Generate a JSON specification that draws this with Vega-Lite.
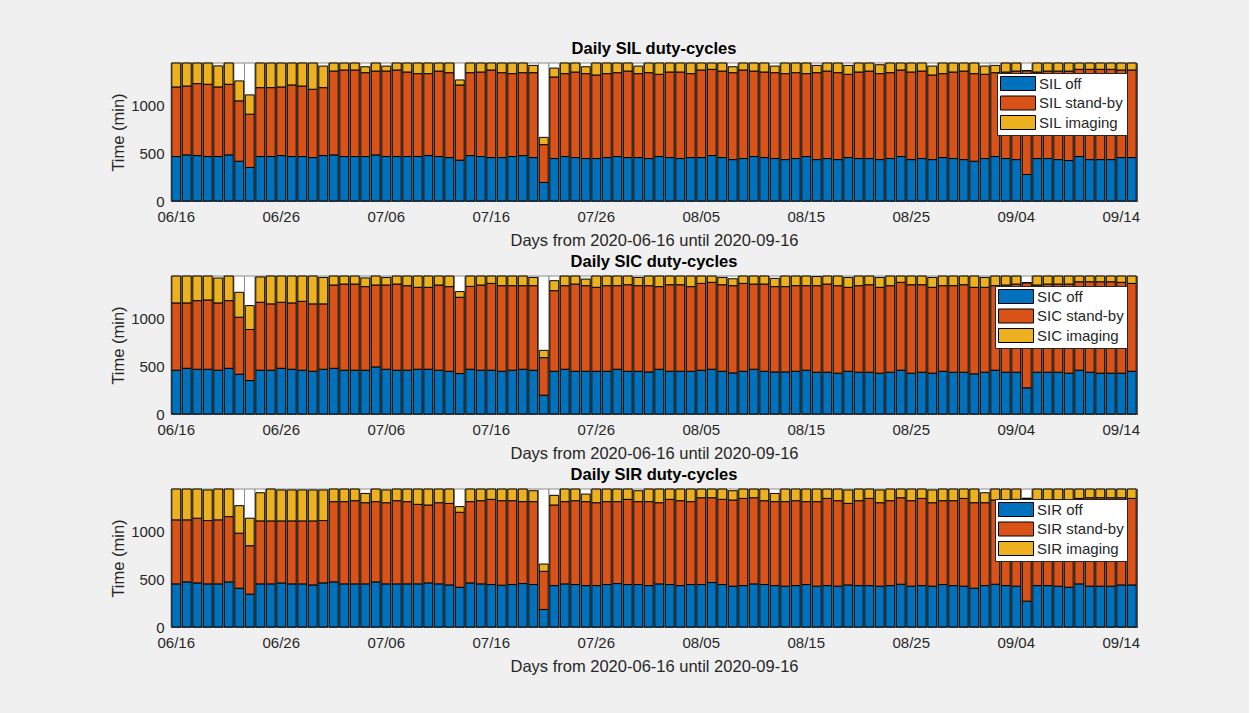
{
"$schema": "https://vega.github.io/schema/vega-lite/v6.json",
"background": "#f0f0f0",
"padding": {"left": 110, "top": 40, "right": 108, "bottom": 43},
"bounds": "flush",
"spacing": 75,
"config": {
  "font": "Liberation Sans",
  "view": {"fill": "white", "stroke": "#262626", "strokeWidth": 1},
  "axis": {"domainColor": "#262626", "tickColor": "#262626", "labelColor": "#262626", "titleColor": "#262626", "labelFontSize": 15, "titleFontSize": 16.5, "titleFontWeight": "normal", "grid": false, "tickSize": -5, "labelPadding": 12},
  "axisX": {"labelPadding": 13, "titlePadding": 8},
  "axisY": {"format": "d"},
  "title": {"fontSize": 16.5, "fontWeight": "bold", "color": "black", "offset": 5},
  "legend": {"orient": "top-right", "offset": 10, "fillColor": "white", "strokeColor": "#262626", "padding": 3, "rowPadding": 0.5, "labelFontSize": 15, "labelColor": "#262626", "symbolType": "M-1,-1H4V1H-1Z", "symbolSize": 196, "symbolStrokeColor": "black", "symbolStrokeWidth": 1, "symbolOpacity": 1, "labelOffset": 24, "title": null}
},
"resolve": {"scale": {"color": "independent"}, "legend": {"color": "independent"}},
"datasets": {
"SIL": [
{"d":"06/16","b":464,"o":1190,"t":1440},{"d":"06/17","b":481,"o":1200,"t":1440},{"d":"06/18","b":474,"o":1225,"t":1440},{"d":"06/19","b":464,"o":1218,"t":1440},{"d":"06/20","b":464,"o":1190,"t":1410},{"d":"06/21","b":481,"o":1218,"t":1440},{"d":"06/22","b":415,"o":1045,"t":1253},{"d":"06/23","b":350,"o":906,"t":1107},{"d":"06/24","b":464,"o":1183,"t":1440},{"d":"06/25","b":464,"o":1183,"t":1440},{"d":"06/26","b":474,"o":1190,"t":1440},{"d":"06/27","b":464,"o":1211,"t":1440},{"d":"06/28","b":464,"o":1200,"t":1440},{"d":"06/29","b":453,"o":1166,"t":1440},{"d":"06/30","b":474,"o":1183,"t":1408},
{"d":"07/01","b":481,"o":1356,"t":1440},{"d":"07/02","b":464,"o":1367,"t":1440},{"d":"07/03","b":464,"o":1367,"t":1440},{"d":"07/04","b":464,"o":1339,"t":1401},{"d":"07/05","b":481,"o":1356,"t":1440},{"d":"07/06","b":464,"o":1356,"t":1408},{"d":"07/07","b":464,"o":1367,"t":1440},{"d":"07/08","b":464,"o":1346,"t":1440},{"d":"07/09","b":464,"o":1329,"t":1440},{"d":"07/10","b":474,"o":1329,"t":1440},{"d":"07/11","b":464,"o":1356,"t":1440},{"d":"07/12","b":453,"o":1339,"t":1440},{"d":"07/13","b":426,"o":1211,"t":1263},{"d":"07/14","b":474,"o":1339,"t":1440},{"d":"07/15","b":464,"o":1346,"t":1440},{"d":"07/16","b":453,"o":1367,"t":1440},{"d":"07/17","b":453,"o":1339,"t":1440},{"d":"07/18","b":464,"o":1329,"t":1440},{"d":"07/19","b":474,"o":1339,"t":1440},{"d":"07/20","b":453,"o":1339,"t":1415},{"d":"07/21","b":194,"o":588,"t":664},{"d":"07/22","b":443,"o":1294,"t":1387},{"d":"07/23","b":464,"o":1329,"t":1440},{"d":"07/24","b":453,"o":1346,"t":1440},{"d":"07/25","b":443,"o":1329,"t":1401},{"d":"07/26","b":443,"o":1315,"t":1440},{"d":"07/27","b":453,"o":1329,"t":1440},{"d":"07/28","b":464,"o":1339,"t":1440},{"d":"07/29","b":453,"o":1356,"t":1440},{"d":"07/30","b":453,"o":1329,"t":1408},{"d":"07/31","b":443,"o":1339,"t":1440},
{"d":"08/01","b":464,"o":1322,"t":1440},{"d":"08/02","b":453,"o":1346,"t":1440},{"d":"08/03","b":443,"o":1346,"t":1440},{"d":"08/04","b":453,"o":1329,"t":1440},{"d":"08/05","b":453,"o":1367,"t":1440},{"d":"08/06","b":474,"o":1374,"t":1440},{"d":"08/07","b":453,"o":1356,"t":1440},{"d":"08/08","b":432,"o":1339,"t":1401},{"d":"08/09","b":443,"o":1367,"t":1440},{"d":"08/10","b":464,"o":1356,"t":1440},{"d":"08/11","b":453,"o":1346,"t":1440},{"d":"08/12","b":443,"o":1339,"t":1408},{"d":"08/13","b":432,"o":1329,"t":1440},{"d":"08/14","b":443,"o":1339,"t":1440},{"d":"08/15","b":464,"o":1329,"t":1440},{"d":"08/16","b":432,"o":1339,"t":1415},{"d":"08/17","b":443,"o":1356,"t":1440},{"d":"08/18","b":432,"o":1339,"t":1440},{"d":"08/19","b":453,"o":1322,"t":1415},{"d":"08/20","b":443,"o":1346,"t":1440},{"d":"08/21","b":443,"o":1356,"t":1440},{"d":"08/22","b":432,"o":1329,"t":1422},{"d":"08/23","b":443,"o":1339,"t":1440},{"d":"08/24","b":464,"o":1367,"t":1440},{"d":"08/25","b":432,"o":1346,"t":1440},{"d":"08/26","b":443,"o":1356,"t":1440},{"d":"08/27","b":432,"o":1315,"t":1408},{"d":"08/28","b":453,"o":1329,"t":1440},{"d":"08/29","b":443,"o":1346,"t":1440},{"d":"08/30","b":432,"o":1356,"t":1440},{"d":"08/31","b":415,"o":1329,"t":1440},
{"d":"09/01","b":443,"o":1322,"t":1408},{"d":"09/02","b":464,"o":1339,"t":1415},{"d":"09/03","b":443,"o":1346,"t":1440},{"d":"09/04","b":432,"o":1356,"t":1440},{"d":"09/05","b":277,"o":1360,"t":1360},{"d":"09/06","b":443,"o":1346,"t":1440},{"d":"09/07","b":443,"o":1356,"t":1440},{"d":"09/08","b":432,"o":1356,"t":1440},{"d":"09/09","b":422,"o":1356,"t":1440},{"d":"09/10","b":464,"o":1374,"t":1440},{"d":"09/11","b":432,"o":1374,"t":1440},{"d":"09/12","b":432,"o":1374,"t":1440},{"d":"09/13","b":432,"o":1374,"t":1440},{"d":"09/14","b":453,"o":1367,"t":1440},{"d":"09/15","b":453,"o":1367,"t":1440}
],
"SIC": [
{"d":"06/16","b":457,"o":1159,"t":1440},{"d":"06/17","b":477,"o":1159,"t":1440},{"d":"06/18","b":467,"o":1183,"t":1440},{"d":"06/19","b":467,"o":1190,"t":1440},{"d":"06/20","b":457,"o":1159,"t":1419},{"d":"06/21","b":477,"o":1183,"t":1440},{"d":"06/22","b":415,"o":1010,"t":1270},{"d":"06/23","b":349,"o":882,"t":1131},{"d":"06/24","b":457,"o":1166,"t":1430},{"d":"06/25","b":457,"o":1149,"t":1440},{"d":"06/26","b":477,"o":1166,"t":1440},{"d":"06/27","b":467,"o":1159,"t":1440},{"d":"06/28","b":457,"o":1176,"t":1440},{"d":"06/29","b":446,"o":1149,"t":1440},{"d":"06/30","b":467,"o":1149,"t":1425},
{"d":"07/01","b":477,"o":1346,"t":1440},{"d":"07/02","b":457,"o":1356,"t":1440},{"d":"07/03","b":457,"o":1356,"t":1440},{"d":"07/04","b":457,"o":1329,"t":1420},{"d":"07/05","b":491,"o":1346,"t":1440},{"d":"07/06","b":467,"o":1346,"t":1425},{"d":"07/07","b":457,"o":1356,"t":1440},{"d":"07/08","b":457,"o":1339,"t":1440},{"d":"07/09","b":467,"o":1322,"t":1440},{"d":"07/10","b":467,"o":1322,"t":1440},{"d":"07/11","b":457,"o":1346,"t":1440},{"d":"07/12","b":446,"o":1329,"t":1440},{"d":"07/13","b":422,"o":1218,"t":1277},{"d":"07/14","b":467,"o":1332,"t":1440},{"d":"07/15","b":457,"o":1346,"t":1440},{"d":"07/16","b":457,"o":1363,"t":1440},{"d":"07/17","b":446,"o":1339,"t":1440},{"d":"07/18","b":457,"o":1339,"t":1440},{"d":"07/19","b":467,"o":1339,"t":1440},{"d":"07/20","b":457,"o":1339,"t":1425},{"d":"07/21","b":197,"o":588,"t":664},{"d":"07/22","b":446,"o":1287,"t":1391},{"d":"07/23","b":467,"o":1339,"t":1440},{"d":"07/24","b":446,"o":1356,"t":1440},{"d":"07/25","b":446,"o":1339,"t":1408},{"d":"07/26","b":446,"o":1322,"t":1440},{"d":"07/27","b":446,"o":1339,"t":1440},{"d":"07/28","b":467,"o":1339,"t":1440},{"d":"07/29","b":446,"o":1349,"t":1440},{"d":"07/30","b":446,"o":1339,"t":1425},{"d":"07/31","b":439,"o":1339,"t":1440},
{"d":"08/01","b":467,"o":1329,"t":1440},{"d":"08/02","b":446,"o":1349,"t":1440},{"d":"08/03","b":446,"o":1349,"t":1440},{"d":"08/04","b":446,"o":1329,"t":1440},{"d":"08/05","b":457,"o":1363,"t":1440},{"d":"08/06","b":467,"o":1374,"t":1440},{"d":"08/07","b":446,"o":1349,"t":1425},{"d":"08/08","b":429,"o":1339,"t":1411},{"d":"08/09","b":446,"o":1363,"t":1440},{"d":"08/10","b":467,"o":1356,"t":1440},{"d":"08/11","b":446,"o":1356,"t":1440},{"d":"08/12","b":439,"o":1329,"t":1415},{"d":"08/13","b":439,"o":1329,"t":1440},{"d":"08/14","b":446,"o":1339,"t":1440},{"d":"08/15","b":457,"o":1339,"t":1440},{"d":"08/16","b":436,"o":1339,"t":1435},{"d":"08/17","b":436,"o":1356,"t":1440},{"d":"08/18","b":426,"o":1339,"t":1440},{"d":"08/19","b":446,"o":1322,"t":1425},{"d":"08/20","b":436,"o":1339,"t":1440},{"d":"08/21","b":436,"o":1349,"t":1440},{"d":"08/22","b":426,"o":1322,"t":1425},{"d":"08/23","b":436,"o":1339,"t":1440},{"d":"08/24","b":457,"o":1374,"t":1440},{"d":"08/25","b":426,"o":1349,"t":1440},{"d":"08/26","b":436,"o":1349,"t":1440},{"d":"08/27","b":426,"o":1322,"t":1425},{"d":"08/28","b":446,"o":1339,"t":1440},{"d":"08/29","b":436,"o":1339,"t":1440},{"d":"08/30","b":436,"o":1349,"t":1440},{"d":"08/31","b":419,"o":1322,"t":1440},
{"d":"09/01","b":436,"o":1322,"t":1425},{"d":"09/02","b":457,"o":1339,"t":1440},{"d":"09/03","b":436,"o":1346,"t":1440},{"d":"09/04","b":436,"o":1356,"t":1440},{"d":"09/05","b":273,"o":1370,"t":1370},{"d":"09/06","b":436,"o":1346,"t":1440},{"d":"09/07","b":436,"o":1356,"t":1440},{"d":"09/08","b":436,"o":1356,"t":1440},{"d":"09/09","b":426,"o":1356,"t":1440},{"d":"09/10","b":457,"o":1380,"t":1440},{"d":"09/11","b":436,"o":1380,"t":1440},{"d":"09/12","b":426,"o":1380,"t":1440},{"d":"09/13","b":426,"o":1380,"t":1440},{"d":"09/14","b":426,"o":1374,"t":1440},{"d":"09/15","b":446,"o":1363,"t":1440}
],
"SIR": [
{"d":"06/16","b":450,"o":1118,"t":1440},{"d":"06/17","b":471,"o":1118,"t":1440},{"d":"06/18","b":460,"o":1135,"t":1440},{"d":"06/19","b":450,"o":1111,"t":1430},{"d":"06/20","b":450,"o":1118,"t":1440},{"d":"06/21","b":471,"o":1152,"t":1440},{"d":"06/22","b":405,"o":979,"t":1266},{"d":"06/23","b":343,"o":848,"t":1135},{"d":"06/24","b":450,"o":1107,"t":1401},{"d":"06/25","b":450,"o":1107,"t":1440},{"d":"06/26","b":460,"o":1107,"t":1430},{"d":"06/27","b":450,"o":1107,"t":1430},{"d":"06/28","b":450,"o":1107,"t":1430},{"d":"06/29","b":439,"o":1107,"t":1430},{"d":"06/30","b":460,"o":1111,"t":1430},
{"d":"07/01","b":471,"o":1308,"t":1440},{"d":"07/02","b":450,"o":1308,"t":1440},{"d":"07/03","b":450,"o":1318,"t":1440},{"d":"07/04","b":450,"o":1297,"t":1394},{"d":"07/05","b":471,"o":1308,"t":1440},{"d":"07/06","b":450,"o":1297,"t":1430},{"d":"07/07","b":450,"o":1318,"t":1440},{"d":"07/08","b":450,"o":1308,"t":1440},{"d":"07/09","b":450,"o":1280,"t":1440},{"d":"07/10","b":460,"o":1273,"t":1440},{"d":"07/11","b":450,"o":1297,"t":1440},{"d":"07/12","b":439,"o":1290,"t":1440},{"d":"07/13","b":415,"o":1197,"t":1256},{"d":"07/14","b":460,"o":1308,"t":1440},{"d":"07/15","b":450,"o":1318,"t":1440},{"d":"07/16","b":443,"o":1332,"t":1440},{"d":"07/17","b":436,"o":1318,"t":1440},{"d":"07/18","b":443,"o":1318,"t":1440},{"d":"07/19","b":453,"o":1308,"t":1440},{"d":"07/20","b":443,"o":1308,"t":1422},{"d":"07/21","b":183,"o":581,"t":657},{"d":"07/22","b":432,"o":1273,"t":1374},{"d":"07/23","b":450,"o":1308,"t":1440},{"d":"07/24","b":443,"o":1318,"t":1440},{"d":"07/25","b":432,"o":1308,"t":1387},{"d":"07/26","b":432,"o":1297,"t":1440},{"d":"07/27","b":443,"o":1308,"t":1440},{"d":"07/28","b":453,"o":1308,"t":1440},{"d":"07/29","b":443,"o":1332,"t":1440},{"d":"07/30","b":443,"o":1308,"t":1422},{"d":"07/31","b":432,"o":1308,"t":1440},
{"d":"08/01","b":450,"o":1297,"t":1440},{"d":"08/02","b":443,"o":1332,"t":1440},{"d":"08/03","b":432,"o":1318,"t":1440},{"d":"08/04","b":443,"o":1308,"t":1440},{"d":"08/05","b":443,"o":1349,"t":1440},{"d":"08/06","b":464,"o":1349,"t":1440},{"d":"08/07","b":443,"o":1332,"t":1440},{"d":"08/08","b":426,"o":1325,"t":1422},{"d":"08/09","b":432,"o":1342,"t":1440},{"d":"08/10","b":450,"o":1349,"t":1440},{"d":"08/11","b":443,"o":1318,"t":1440},{"d":"08/12","b":432,"o":1308,"t":1394},{"d":"08/13","b":426,"o":1308,"t":1440},{"d":"08/14","b":432,"o":1318,"t":1440},{"d":"08/15","b":443,"o":1308,"t":1440},{"d":"08/16","b":426,"o":1308,"t":1440},{"d":"08/17","b":432,"o":1342,"t":1440},{"d":"08/18","b":426,"o":1318,"t":1440},{"d":"08/19","b":439,"o":1290,"t":1430},{"d":"08/20","b":432,"o":1318,"t":1440},{"d":"08/21","b":432,"o":1342,"t":1440},{"d":"08/22","b":426,"o":1297,"t":1430},{"d":"08/23","b":432,"o":1318,"t":1440},{"d":"08/24","b":446,"o":1349,"t":1440},{"d":"08/25","b":426,"o":1318,"t":1440},{"d":"08/26","b":432,"o":1342,"t":1440},{"d":"08/27","b":426,"o":1297,"t":1430},{"d":"08/28","b":443,"o":1318,"t":1440},{"d":"08/29","b":432,"o":1318,"t":1440},{"d":"08/30","b":426,"o":1342,"t":1440},{"d":"08/31","b":405,"o":1297,"t":1440},
{"d":"09/01","b":432,"o":1297,"t":1401},{"d":"09/02","b":446,"o":1325,"t":1440},{"d":"09/03","b":432,"o":1318,"t":1440},{"d":"09/04","b":426,"o":1332,"t":1440},{"d":"09/05","b":270,"o":1342,"t":1342},{"d":"09/06","b":432,"o":1318,"t":1440},{"d":"09/07","b":432,"o":1318,"t":1440},{"d":"09/08","b":426,"o":1325,"t":1440},{"d":"09/09","b":415,"o":1325,"t":1440},{"d":"09/10","b":450,"o":1342,"t":1440},{"d":"09/11","b":426,"o":1349,"t":1440},{"d":"09/12","b":426,"o":1349,"t":1440},{"d":"09/13","b":426,"o":1349,"t":1440},{"d":"09/14","b":439,"o":1349,"t":1440},{"d":"09/15","b":439,"o":1342,"t":1440}
]
},
"vconcat": [
{
 "width": 966, "height": 138,
 "data": {"name": "SIL"},
 "title": "Daily SIL duty-cycles",
 "encoding": {"x": {"field": "d", "type": "ordinal", "scale": {"paddingInner": 0.15, "paddingOuter": 0.075}, "axis": {"values": ["06/16","06/26","07/06","07/16","07/26","08/05","08/15","08/25","09/04","09/14"], "labelAngle": 0, "title": "Days from 2020-06-16 until 2020-09-16"}}},
 "layer": [
  {"mark": {"type": "bar", "fill": "white", "stroke": "#8c8c8c", "strokeWidth": 1, "width": {"band": 1.176}}, "encoding": {"y": {"datum": 1440, "type": "quantitative", "scale": {"domain": [0, 1440], "nice": false}, "axis": {"values": [0, 500, 1000], "title": "Time (min)"}}, "y2": {"datum": 0}}},
  {"mark": {"type": "bar", "stroke": "black", "strokeWidth": 1, "opacity": 1}, "encoding": {"y": {"field": "b", "type": "quantitative"}, "y2": {"datum": 0}, "color": {"datum": "SIL off", "type": "nominal", "scale": {"domain": ["SIL off", "SIL stand-by", "SIL imaging"], "range": ["#0072BD", "#D95319", "#EDB120"]}}}},
  {"mark": {"type": "bar", "stroke": "black", "strokeWidth": 1, "opacity": 1}, "encoding": {"y": {"field": "o", "type": "quantitative"}, "y2": {"field": "b"}, "color": {"datum": "SIL stand-by", "type": "nominal"}}},
  {"mark": {"type": "bar", "stroke": "black", "strokeWidth": 1, "opacity": 1}, "encoding": {"y": {"field": "t", "type": "quantitative"}, "y2": {"field": "o"}, "color": {"datum": "SIL imaging", "type": "nominal"}}}
 ]
},
{
 "width": 966, "height": 138,
 "data": {"name": "SIC"},
 "title": "Daily SIC duty-cycles",
 "encoding": {"x": {"field": "d", "type": "ordinal", "scale": {"paddingInner": 0.15, "paddingOuter": 0.075}, "axis": {"values": ["06/16","06/26","07/06","07/16","07/26","08/05","08/15","08/25","09/04","09/14"], "labelAngle": 0, "title": "Days from 2020-06-16 until 2020-09-16"}}},
 "layer": [
  {"mark": {"type": "bar", "fill": "white", "stroke": "#8c8c8c", "strokeWidth": 1, "width": {"band": 1.176}}, "encoding": {"y": {"datum": 1440, "type": "quantitative", "scale": {"domain": [0, 1440], "nice": false}, "axis": {"values": [0, 500, 1000], "title": "Time (min)"}}, "y2": {"datum": 0}}},
  {"mark": {"type": "bar", "stroke": "black", "strokeWidth": 1, "opacity": 1}, "encoding": {"y": {"field": "b", "type": "quantitative"}, "y2": {"datum": 0}, "color": {"datum": "SIC off", "type": "nominal", "scale": {"domain": ["SIC off", "SIC stand-by", "SIC imaging"], "range": ["#0072BD", "#D95319", "#EDB120"]}}}},
  {"mark": {"type": "bar", "stroke": "black", "strokeWidth": 1, "opacity": 1}, "encoding": {"y": {"field": "o", "type": "quantitative"}, "y2": {"field": "b"}, "color": {"datum": "SIC stand-by", "type": "nominal"}}},
  {"mark": {"type": "bar", "stroke": "black", "strokeWidth": 1, "opacity": 1}, "encoding": {"y": {"field": "t", "type": "quantitative"}, "y2": {"field": "o"}, "color": {"datum": "SIC imaging", "type": "nominal"}}}
 ]
},
{
 "width": 966, "height": 138,
 "data": {"name": "SIR"},
 "title": "Daily SIR duty-cycles",
 "encoding": {"x": {"field": "d", "type": "ordinal", "scale": {"paddingInner": 0.15, "paddingOuter": 0.075}, "axis": {"values": ["06/16","06/26","07/06","07/16","07/26","08/05","08/15","08/25","09/04","09/14"], "labelAngle": 0, "title": "Days from 2020-06-16 until 2020-09-16"}}},
 "layer": [
  {"mark": {"type": "bar", "fill": "white", "stroke": "#8c8c8c", "strokeWidth": 1, "width": {"band": 1.176}}, "encoding": {"y": {"datum": 1440, "type": "quantitative", "scale": {"domain": [0, 1440], "nice": false}, "axis": {"values": [0, 500, 1000], "title": "Time (min)"}}, "y2": {"datum": 0}}},
  {"mark": {"type": "bar", "stroke": "black", "strokeWidth": 1, "opacity": 1}, "encoding": {"y": {"field": "b", "type": "quantitative"}, "y2": {"datum": 0}, "color": {"datum": "SIR off", "type": "nominal", "scale": {"domain": ["SIR off", "SIR stand-by", "SIR imaging"], "range": ["#0072BD", "#D95319", "#EDB120"]}}}},
  {"mark": {"type": "bar", "stroke": "black", "strokeWidth": 1, "opacity": 1}, "encoding": {"y": {"field": "o", "type": "quantitative"}, "y2": {"field": "b"}, "color": {"datum": "SIR stand-by", "type": "nominal"}}},
  {"mark": {"type": "bar", "stroke": "black", "strokeWidth": 1, "opacity": 1}, "encoding": {"y": {"field": "t", "type": "quantitative"}, "y2": {"field": "o"}, "color": {"datum": "SIR imaging", "type": "nominal"}}}
 ]
}
]
}
